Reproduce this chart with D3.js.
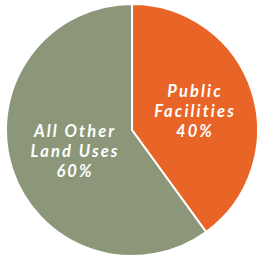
<!DOCTYPE html>
<html><head><meta charset="utf-8">
<script src="https://cdn.jsdelivr.net/npm/d3@7"></script>
<style>html,body{margin:0;padding:0;background:#fff;}svg{display:block;}</style>
</head><body>
<svg id="c" width="257" height="259"></svg>
<script>
const categories = ["Public Facilities", "All Other Land Uses"];
const values = [40, 60];
const labelLines = [["Public", "Facilities", "40%"], ["All Other", "Land Uses", "60%"]];
const colors = ["#E86427", "#8C977A"];

const svg = d3.select("#c");
const cx = 132, cy = 130, r = 126;
const g = svg.append("g").attr("transform", `translate(${cx},${cy})`);
const pie = d3.pie().sort(null).value(d => d)(values);
const arc = d3.arc().innerRadius(0).outerRadius(r);
g.selectAll("path").data(pie).join("path")
  .attr("d", arc)
  .attr("fill", (d, i) => colors[i])
  .attr("stroke", "#fff").attr("stroke-width", 2).attr("stroke-linejoin", "miter");

const ls = 2.1;
const labelPos = [[62, -33], [-58, 7]];
const lh = 20;
pie.forEach((d, i) => {
  labelLines[i].forEach((line, j) => {
    g.append("text")
      .attr("text-anchor", "middle")
      .attr("fill", "#fff")
      .attr("font-family", "Lato, sans-serif")
      .attr("font-weight", "bold")
      .attr("font-style", "italic")
      .attr("font-size", 16.5)
      .attr("letter-spacing", ls)
      .attr("x", labelPos[i][0] + ls / 2)
      .attr("y", labelPos[i][1] + j * lh)
      .text(line);
  });
});
</script>
</body></html>
